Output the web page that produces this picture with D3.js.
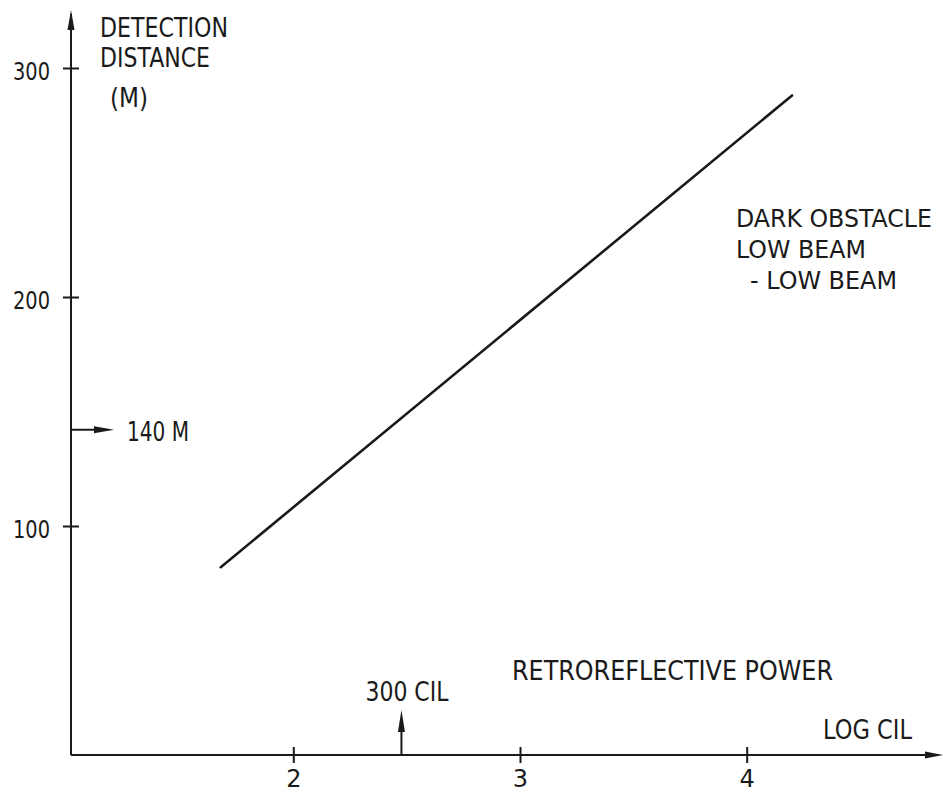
<!DOCTYPE html>
<html>
<head>
<meta charset="utf-8">
<script src="https://cdn.jsdelivr.net/npm/d3@7"></script>
<style>
  body { margin: 0; background: #fff; }
  text { font-family: "DejaVu Sans", sans-serif; fill: #1a1a1a; }
</style>
</head>
<body>
<div id="chart"></div>
<script>
// DATA
const xTicks = [2, 3, 4];
const yTicks = [100, 200, 300];
const lineLogCil = [1.68, 4.2];
const lineDistance = [82, 288];
const markLogCil = 2.477;   // 300 CIL
const markDistance = 142;   // 140 M
const yTitle = ["DETECTION", "DISTANCE", "(M)"];
const legendLines = ["DARK OBSTACLE", "LOW BEAM", "- LOW BEAM"];

const w = 943;
const h = 794;
const ink = "#1a1a1a";

// SCALES
const x = d3.scaleLinear().domain([2, 4]).range([293.3, 746.7]);
const y = d3.scaleLinear().domain([0, 300]).range([755, 68]);

const x0 = 71;   // y-axis position
const y0 = y(0); // x-axis position

const svg = d3.select("#chart")
  .append("svg")
  .attr("width", w)
  .attr("height", h);

// arrowhead helper
function arrowHead(tipX, tipY, dir, len, half) {
  let pts;
  if (dir === "up") pts = [[tipX, tipY], [tipX - half, tipY + len], [tipX + half, tipY + len]];
  else pts = [[tipX, tipY], [tipX - len, tipY - half], [tipX - len, tipY + half]];
  svg.append("path")
    .attr("d", d3.line()(pts) + "Z")
    .attr("fill", ink);
}

// narrow lettering: squeeze the text to the width seen in the drawing
function label(tx, ty, str, width, size) {
  return svg.append("text")
    .attr("x", tx).attr("y", ty)
    .attr("font-size", size || 27)
    .attr("textLength", width)
    .attr("lengthAdjust", "spacingAndGlyphs")
    .text(str);
}

// AXES LINES
svg.append("line")
  .attr("x1", x0).attr("y1", y0)
  .attr("x2", x0).attr("y2", 14)
  .attr("stroke", ink).attr("stroke-width", 2);
arrowHead(x0, 10, "up", 20, 3.5);

svg.append("line")
  .attr("x1", x0).attr("y1", y0)
  .attr("x2", 938).attr("y2", y0)
  .attr("stroke", ink).attr("stroke-width", 2);
arrowHead(943, y0, "right", 18, 3.5);

// Y AXIS TICKS
const yAxis = d3.axisLeft(y).tickValues(yTicks).tickFormat(d3.format("d")).tickSize(8).tickPadding(13);
const gy = svg.append("g")
  .attr("transform", "translate(" + x0 + ",0)")
  .call(yAxis);
gy.select(".domain").remove();
gy.selectAll(".tick line").attr("x2", 8).attr("x1", -8).attr("stroke", ink).attr("stroke-width", 2);
gy.selectAll(".tick text")
  .attr("font-size", 25)
  .attr("font-family", null)
  .attr("dy", "0.45em")
  .attr("textLength", 37)
  .attr("lengthAdjust", "spacingAndGlyphs")
  .attr("fill", ink);

// X AXIS TICKS
const xAxis = d3.axisBottom(x).tickValues(xTicks).tickFormat(d3.format("d")).tickSize(8).tickPadding(7);
const gx = svg.append("g")
  .attr("transform", "translate(0," + y0 + ")")
  .call(xAxis);
gx.select(".domain").remove();
gx.selectAll(".tick line").attr("y1", -8).attr("y2", 8).attr("stroke", ink).attr("stroke-width", 2);
gx.selectAll(".tick text")
  .attr("font-size", 24)
  .attr("font-family", null)
  .attr("fill", ink);

// MAIN LINE
svg.append("path")
  .datum(lineLogCil.map((d, i) => [d, lineDistance[i]]))
  .attr("d", d3.line().x(d => x(d[0])).y(d => y(d[1])))
  .attr("fill", "none")
  .attr("stroke", ink)
  .attr("stroke-width", 2.6)
  .attr("stroke-linecap", "round");

// 300 CIL MARKER
const mx = x(markLogCil);
svg.append("line")
  .attr("x1", mx).attr("y1", y0)
  .attr("x2", mx).attr("y2", 720)
  .attr("stroke", ink).attr("stroke-width", 2);
arrowHead(mx, 710, "up", 22, 3.5);
label(mx - 36, 701, "300 CIL", 83);

// 140 M MARKER
const my = y(markDistance);
svg.append("line")
  .attr("x1", x0).attr("y1", my)
  .attr("x2", 104).attr("y2", my)
  .attr("stroke", ink).attr("stroke-width", 2);
arrowHead(114, my, "right", 20, 3.5);
label(127, my + 11, "140 M", 62);

// Y TITLE
const yTitleX = [100, 100, 110];
const yTitleY = [37, 67, 107];
const yTitleW = [128, 110, 38];
yTitle.forEach((t, i) => label(yTitleX[i], yTitleY[i], t, yTitleW[i]));

// X TITLES
label(512, 680, "RETROREFLECTIVE POWER", 321);
label(823, 739, "LOG CIL", 89);

// LEGEND TEXT
const legendX = [736, 736, 750];
const legendW = [196, 130, 147];
legendLines.forEach((t, i) => label(legendX[i], 227 + i * 31, t, legendW[i], 24.5));
</script>
</body>
</html>
